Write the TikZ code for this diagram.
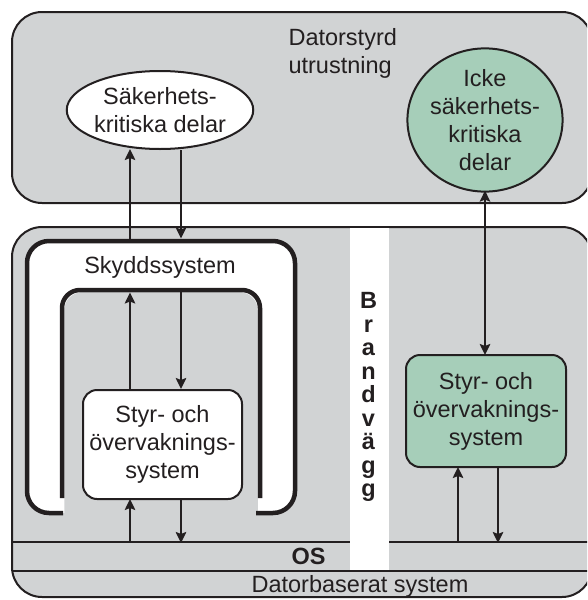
\documentclass[tikz,border=0pt]{standalone}
\usepackage{fontspec}
\setmainfont{Liberation Sans}
\usetikzlibrary{arrows.meta,shapes.geometric}
\definecolor{panelgray}{HTML}{D1D3D4}
\definecolor{safegreen}{HTML}{A6CEB9}
\definecolor{ink}{HTML}{231F20}
\begin{document}
\begin{tikzpicture}[x=1pt,y=-1pt,
  every node/.style={text=ink, font=\fontsize{23.5}{28}\selectfont},
  panel/.style={draw=ink, line width=2pt, fill=panelgray, rounded corners=30pt},
  sepline/.style={draw=ink, line width=1.8pt},
  wall/.style={draw=ink, line width=4.5pt},
  tip/.style={Stealth[length=11pt,width=10.5pt,inset=2pt]},
  flow/.style={draw=ink, line width=2.1pt, -{Stealth[length=11pt,width=10.5pt,inset=2pt]}},
  biflow/.style={draw=ink, line width=2.1pt, {Stealth[length=11pt,width=10.5pt,inset=2pt]}-{Stealth[length=11pt,width=10.5pt,inset=2pt]}},
  part/.style={ellipse, draw=ink, line width=2pt, inner sep=0pt, align=center},
  sysbox/.style={rectangle, draw=ink, line width=2pt, rounded corners=14pt, inner sep=0pt, align=center},
  fwletter/.style={anchor=base, font=\fontsize{23.5}{28}\selectfont\bfseries}
]
\useasboundingbox (0,0) rectangle (587,600);
\clip (0,0) rectangle (587,600);

% the two panels
\draw[panel] (12,12) rectangle (592,203);
\draw[panel] (12,227) rectangle (592,597);

% OS layer
\coordinate (osL) at (12,542);
\coordinate (osR) at (592,542);
\draw[sepline] (osL) -- (osR);

% firewall strip
\fill[white] (350,228) rectangle (389,570);
\draw[sepline] (12,571) -- (592,571);
\foreach \ch [count=\i from 0] in {B,r,a,n,d,v,ä,g,g}
  \node[fwletter] (fw\i) at (368.5,308.5+23.5*\i) {\ch};

% protection system band (white U between two thick walls)
\fill[white, rounded corners=24pt] (27,241) rectangle (295,513);
\fill[panelgray, rounded corners=18pt] (64.25,292.25) rectangle (257.75,540);
\draw[wall] (63,513) [rounded corners=22pt] -- (27,513) -- (27,241) -- (295,241) -- (295,513) -- (256,513);
\draw[wall] (62,498) [rounded corners=18pt] -- (62,290) -- (260,290) -- (260,498);

% texts on the panels
\node[anchor=west, align=left] (utr) at (285,53) {Datorstyrd\\utrustning};
\node (skydd) at (160,267) {Skyddssystem};
\node[font=\fontsize{23.5}{28}\selectfont\bfseries] (os) at (308.5,556) {OS};
\node (dator) at (360,586) {Datorbaserat system};

% parts
\node[part, fill=white, minimum width=182pt, minimum height=78pt] (sak) at (160,110) {Säkerhets-\\kritiska delar};
\node[part, fill=safegreen, minimum width=150pt, minimum height=132pt] (icke) at (485,120) {Icke\\säkerhets-\\kritiska\\delar};

% control and monitoring systems
\node[sysbox, fill=white, minimum width=159pt, minimum height=109pt] (styrL) at (162.5,444.5) {Styr- och\\övervaknings-\\system};
\node[sysbox, fill=safegreen, minimum width=160pt, minimum height=112pt] (styrR) at (486,411) {Styr- och\\övervaknings-\\system};

% reference coordinates for the arrows
\coordinate (upx) at (130,0);
\coordinate (dnx) at (181,0);
\coordinate (rupx) at (458,0);
\coordinate (rdnx) at (498,0);
\coordinate (outerTop) at (0,241);
\coordinate (outerTip) at (0,238.5);
\coordinate (innerTop) at (0,290);
\coordinate (innerTip) at (0,292.5);

% arrows, left side
\draw[flow] (outerTop -| upx) -- ([yshift=1pt]sak.south -| upx);
\draw[flow] (sak.south -| dnx) -- (outerTip -| dnx);
\draw[flow] (styrL.north -| upx) -- (innerTip -| upx);
\draw[flow] (innerTop -| dnx) -- (styrL.north -| dnx);
\draw[flow] (osL -| upx) -- ([yshift=1pt]styrL.south -| upx);
\draw[flow] (styrL.south -| dnx) -- ([yshift=-1pt]osL -| dnx);

% arrows, right side
\draw[biflow] ([yshift=2pt]icke.south) -- ([yshift=-1pt]styrR.north -| icke.south);
\draw[flow] (osL -| rupx) -- ([yshift=1pt]styrR.south -| rupx);
\draw[flow] (styrR.south -| rdnx) -- ([yshift=-1pt]osL -| rdnx);
\end{tikzpicture}
\end{document}
